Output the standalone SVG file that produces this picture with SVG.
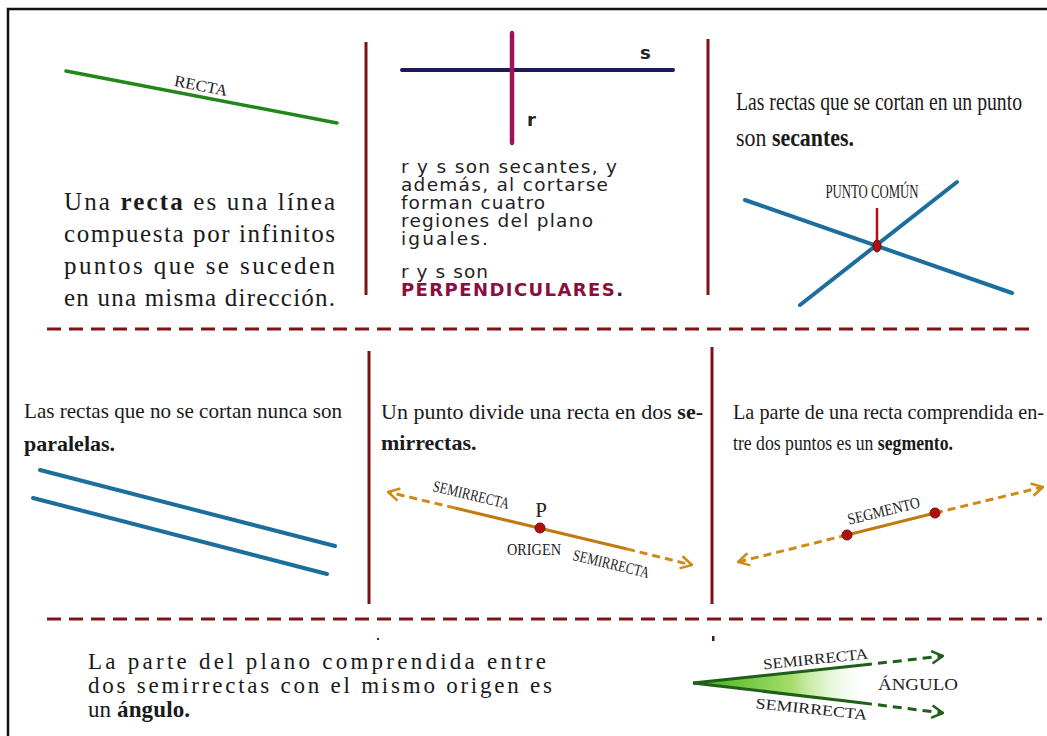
<svg xmlns="http://www.w3.org/2000/svg" width="1047" height="736" viewBox="0 0 1047 736">
<style>
.serif{font-family:"Liberation Serif","Times New Roman",serif;fill:#1a1a1a}
.sans{font-family:"DejaVu Sans","Verdana",sans-serif;fill:#222}
.lbl{font-family:"Liberation Serif","Times New Roman",serif;fill:#222}
.sep{stroke:#7a1216;stroke-width:3;fill:none}
.dash{stroke:#7e1416;stroke-width:3;stroke-dasharray:14 8;fill:none}
.blue{stroke:#1c6f9c;stroke-width:4;stroke-linecap:round;fill:none}
.or-solid{stroke:#c07a10;stroke-width:3;fill:none}
.or-dash{stroke:#d08a1a;stroke-width:3;stroke-dasharray:8 5;fill:none}
.gr-solid{stroke:#1f5f1a;stroke-width:3;fill:none}
.gr-dash{stroke:#1f5f1a;stroke-width:3;stroke-dasharray:9 6;fill:none}
.dot{fill:#b01010;stroke:#7a0a0a;stroke-width:1}
</style>
<defs>
<marker id="chevO" viewBox="0 0 12 12" refX="11" refY="6" markerUnits="userSpaceOnUse" markerWidth="15" markerHeight="15" orient="auto-start-reverse">
<path d="M2,1 L11,6 L2,11" fill="none" stroke="#d08a1a" stroke-width="2"/>
</marker>
<marker id="chevG" viewBox="0 0 12 12" refX="11" refY="6" markerUnits="userSpaceOnUse" markerWidth="15" markerHeight="15" orient="auto">
<path d="M2,1 L11,6 L2,11" fill="none" stroke="#1f5f1a" stroke-width="2"/>
</marker>
<linearGradient id="angG" gradientUnits="userSpaceOnUse" x1="693" y1="0" x2="872" y2="0">
<stop offset="0" stop-color="#3fae14"/>
<stop offset="0.55" stop-color="#a5dd6c"/>
<stop offset="1" stop-color="#ffffff" stop-opacity="0"/>
</linearGradient>
</defs>
<rect width="1047" height="736" fill="#ffffff"/>
<path d="M8,736 L8,9 L1047,9" fill="none" stroke="#111" stroke-width="2.5"/>

<g id="dividers">
<line class="sep" x1="366" y1="42" x2="366" y2="295"/>
<line class="sep" x1="708" y1="39" x2="708" y2="295"/>
<line class="dash" x1="47" y1="329" x2="1032" y2="329"/>
<line class="sep" x1="369" y1="351" x2="369" y2="604"/>
<line class="sep" x1="712" y1="347" x2="712" y2="604"/>
<line class="dash" x1="47" y1="619" x2="1042" y2="619"/>
<rect x="377" y="638" width="2" height="2" fill="#7a1216"/>
<rect x="712" y="636" width="2.5" height="5" fill="#5a1010"/>
</g>

<g id="connectors"></g>

<g id="cell-recta">
<line x1="66" y1="71" x2="337" y2="123" stroke="#23851a" stroke-width="3.5" stroke-linecap="round"/>
<text class="lbl" font-size="16" x="200" y="91" text-anchor="middle" textLength="54" lengthAdjust="spacingAndGlyphs" transform="rotate(11 200 91)">RECTA</text>
<text class="serif" font-size="25" x="64" y="210" textLength="271" lengthAdjust="spacing">Una <tspan font-weight="bold">recta</tspan> es una línea</text>
<text class="serif" font-size="25" x="64" y="242" textLength="271" lengthAdjust="spacing">compuesta por infinitos</text>
<text class="serif" font-size="25" x="64" y="274" textLength="271" lengthAdjust="spacing">puntos que se suceden</text>
<text class="serif" font-size="25" x="64" y="306" textLength="271" lengthAdjust="spacing">en una misma dirección.</text>
</g>

<g id="cell-perpendiculares">
<line x1="402" y1="70" x2="673" y2="70" stroke="#1c1a5c" stroke-width="4" stroke-linecap="round"/>
<line x1="512" y1="33" x2="512" y2="143" stroke="#a0125a" stroke-width="4.5" stroke-linecap="round"/>
<text class="sans" font-size="18" font-weight="bold" x="640" y="59">s</text>
<text class="sans" font-size="18" font-weight="bold" x="527" y="126">r</text>
<text class="sans" font-size="18.5" x="401" y="173" textLength="216" lengthAdjust="spacing">r y s son secantes, y</text>
<text class="sans" font-size="18.5" x="401" y="191" textLength="207" lengthAdjust="spacing">además, al cortarse</text>
<text class="sans" font-size="18.5" x="401" y="209" textLength="144" lengthAdjust="spacing">forman cuatro</text>
<text class="sans" font-size="18.5" x="401" y="227" textLength="192" lengthAdjust="spacing">regiones del plano</text>
<text class="sans" font-size="18.5" x="401" y="245" textLength="87" lengthAdjust="spacing">iguales.</text>
<text class="sans" font-size="18.5" x="401" y="278" textLength="87" lengthAdjust="spacing">r y s son</text>
<text class="sans" font-size="18" font-weight="bold" x="401" y="296" textLength="222" lengthAdjust="spacing" style="fill:#8a0e40">PERPENDICULARES<tspan style="fill:#222">.</tspan></text>
</g>

<g id="cell-secantes">
<text class="serif" font-size="26" x="736" y="110" textLength="286" lengthAdjust="spacingAndGlyphs">Las rectas que se cortan en un punto</text>
<text class="serif" font-size="26" x="736" y="146" textLength="118" lengthAdjust="spacingAndGlyphs">son <tspan font-weight="bold">secantes.</tspan></text>
<line class="blue" x1="745" y1="200" x2="1012" y2="293"/>
<line class="blue" x1="800" y1="305" x2="957" y2="182"/>
<line x1="877" y1="208" x2="877" y2="242" stroke="#b01010" stroke-width="2.5"/>
<ellipse class="dot" cx="877" cy="246" rx="4" ry="6"/>
<text class="lbl" font-size="18" x="872" y="198" text-anchor="middle" textLength="93" lengthAdjust="spacingAndGlyphs">PUNTO COMÚN</text>
</g>

<g id="cell-paralelas">
<text class="serif" font-size="22" x="24" y="418" textLength="318" lengthAdjust="spacingAndGlyphs">Las rectas que no se cortan nunca son</text>
<text class="serif" font-size="22" font-weight="bold" x="24" y="451">paralelas.</text>
<line class="blue" x1="40" y1="470" x2="335" y2="546"/>
<line class="blue" x1="33" y1="498" x2="327" y2="574"/>
</g>

<g id="cell-semirrectas">
<text class="serif" font-size="22" x="381" y="419" textLength="322" lengthAdjust="spacingAndGlyphs">Un punto divide una recta en dos <tspan font-weight="bold">se-</tspan></text>
<text class="serif" font-size="22" font-weight="bold" x="381" y="450">mirrectas.</text>
<path class="or-dash" d="M455,508 L388,492" marker-end="url(#chevO)"/>
<path class="or-solid" d="M455,508 L627,549"/>
<path class="or-dash" d="M627,549 L692,565" marker-end="url(#chevO)"/>
<circle class="dot" cx="540" cy="528" r="5"/>
<text class="lbl" font-size="21" x="541" y="517" text-anchor="middle">P</text>
<text class="lbl" font-size="16" x="470" y="500" text-anchor="middle" textLength="78" lengthAdjust="spacingAndGlyphs" transform="rotate(13.5 470 500)">SEMIRRECTA</text>
<text class="lbl" font-size="16" x="534" y="555" text-anchor="middle" textLength="54" lengthAdjust="spacingAndGlyphs">ORIGEN</text>
<text class="lbl" font-size="16" x="610" y="569" text-anchor="middle" textLength="78" lengthAdjust="spacingAndGlyphs" transform="rotate(13.5 610 569)">SEMIRRECTA</text>
</g>

<g id="cell-segmento">
<text class="serif" font-size="22" x="733" y="419" textLength="311" lengthAdjust="spacingAndGlyphs">La parte de una recta comprendida en-</text>
<text class="serif" font-size="22" x="733" y="450" textLength="220" lengthAdjust="spacingAndGlyphs">tre dos puntos es un <tspan font-weight="bold">segmento.</tspan></text>
<path class="or-dash" d="M847,535 L738,562" marker-end="url(#chevO)"/>
<path class="or-solid" d="M847,535 L935,513"/>
<path class="or-dash" d="M935,513 L1043,487" marker-end="url(#chevO)"/>
<circle class="dot" cx="847" cy="535" r="5"/>
<circle class="dot" cx="935" cy="513" r="5"/>
<text class="lbl" font-size="16" x="885" y="516" text-anchor="middle" textLength="74" lengthAdjust="spacingAndGlyphs" transform="rotate(-13.8 885 516)">SEGMENTO</text>
</g>

<g id="cell-angulo">
<text class="serif" font-size="23" x="88" y="669" textLength="458" lengthAdjust="spacing">La parte del plano comprendida entre</text>
<text class="serif" font-size="23" x="88" y="693" textLength="464" lengthAdjust="spacing">dos semirrectas con el mismo origen es</text>
<text class="serif" font-size="23" x="88" y="717" textLength="102" lengthAdjust="spacing">un <tspan font-weight="bold">ángulo.</tspan></text>
<polygon points="693,683 872,664 872,704" fill="url(#angG)"/>
<path class="gr-solid" d="M693,683 L863,665"/>
<path class="gr-solid" d="M693,683 L863,703"/>
<path class="gr-dash" d="M863,665 L943,656" marker-end="url(#chevG)"/>
<path class="gr-dash" d="M863,703 L943,713" marker-end="url(#chevG)"/>
<text class="lbl" font-size="15" x="816" y="664" text-anchor="middle" textLength="105" lengthAdjust="spacingAndGlyphs" transform="rotate(-6 816 664)">SEMIRRECTA</text>
<text class="lbl" font-size="16" x="918" y="690" text-anchor="middle" textLength="80" lengthAdjust="spacingAndGlyphs">ÁNGULO</text>
<text class="lbl" font-size="15" x="811" y="714" text-anchor="middle" textLength="112" lengthAdjust="spacingAndGlyphs" transform="rotate(6 811 714)">SEMIRRECTA</text>
</g>
</svg>
